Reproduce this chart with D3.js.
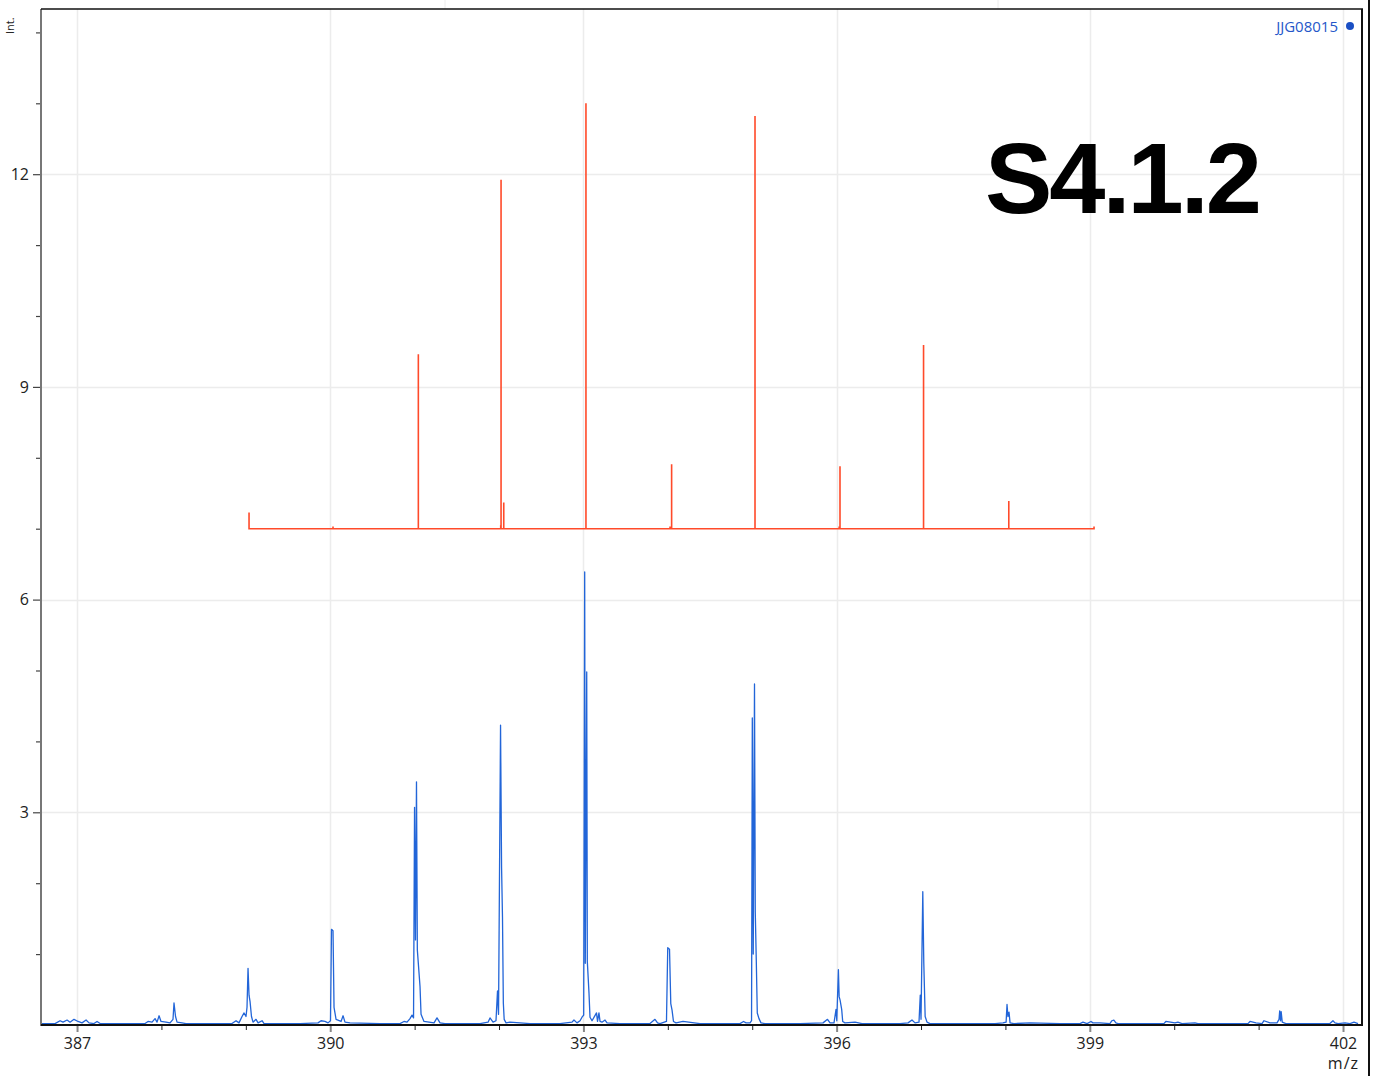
<!DOCTYPE html>
<html><head><meta charset="utf-8">
<script src="https://cdn.jsdelivr.net/npm/d3@7"></script>
<style>html,body{margin:0;padding:0;background:#fff;overflow:hidden}</style>
</head><body>
<svg id="chart" width="1381" height="1076"></svg>
<script>
const sampleName = "JJG08015";
const chartLabel = "S4.1.2";
const xAxisTitle = "m/z";
const yAxisTitle = "Int.";
const xMajorTicks = [387, 390, 393, 396, 399, 402];
const xMinorTicks = [388, 389, 391, 392, 394, 395, 397, 398, 400, 401];
const yMajorTicks = [3, 6, 9, 12];
const yMinorTicks = [1, 2, 4, 5, 7, 8, 10, 11, 13, 14];

// measured (blue, profile) spectrum
const profileMz = [
 386.585,386.739,386.799,386.834,386.882,386.917,386.964,387.012,387.059,387.107,387.142,387.201,387.237,387.273,387.509,
 387.806,387.841,387.889,387.924,387.948,387.972,387.995,388.054,388.102,388.137,388.149,388.167,388.185,388.244,388.291,
 388.836,388.884,388.919,388.955,388.979,389.002,389.014,389.026,389.038,389.050,389.067,389.085,389.121,389.145,389.192,389.216,
 389.642,389.855,389.891,389.938,389.974,390.003,390.015,390.033,390.045,390.069,390.128,390.152,390.175,390.235,
 390.590,390.827,390.874,390.910,390.945,390.969,390.987,390.999,391.010,391.022,391.032,391.064,391.076,391.111,391.230,391.265,391.301,391.360,
 391.775,391.870,391.893,391.929,391.964,391.982,391.994,392.018,392.030,392.041,392.051,392.061,392.083,392.130,392.367,
 392.722,392.865,392.888,392.924,392.960,392.983,393.003,393.015,393.022,393.039,393.046,393.066,393.078,393.102,393.155,393.167,393.184,393.197,393.220,393.256,393.280,393.433,
 393.789,393.848,393.878,393.907,393.984,393.999,394.020,394.035,394.050,394.067,394.097,394.180,
 394.381,394.855,394.897,394.927,394.974,394.992,395.001,395.012,395.027,395.036,395.048,395.060,395.080,395.104,395.152,
 395.567,395.839,395.892,395.922,395.969,395.993,396.002,396.021,396.030,396.041,396.060,396.072,396.099,396.218,396.301,
 396.751,396.846,396.893,396.929,396.976,396.991,397.000,397.021,397.033,397.049,397.071,397.106,
 397.462,397.877,397.971,398.008,398.019,398.030,398.043,398.055,398.101,398.291,
 398.647,398.884,398.919,398.967,399.014,399.037,399.120,399.238,399.262,399.285,399.309,399.333,399.594,399.878,399.901,
 400.009,400.044,400.092,400.246,400.281,400.365,400.661,400.874,400.898,400.969,401.040,401.064,401.135,401.218,
 401.242,401.250,401.260,401.267,401.280,401.324,401.490,401.845,401.881,401.905,401.941,402.024,402.083,402.130,402.178
];
const profileIntensity = [
 0.02,0.02,0.06,0.04,0.07,0.04,0.08,0.05,0.03,0.07,0.03,0.02,0.05,0.02,0.02,
 0.02,0.05,0.04,0.09,0.04,0.13,0.05,0.04,0.03,0.08,0.31,0.12,0.04,0.03,0.02,
 0.02,0.06,0.03,0.12,0.17,0.12,0.25,0.80,0.42,0.33,0.12,0.04,0.08,0.03,0.06,0.02,
 0.02,0.03,0.06,0.05,0.03,0.06,1.35,1.33,0.25,0.08,0.05,0.13,0.04,0.03,
 0.02,0.02,0.05,0.04,0.09,0.14,0.10,3.07,1.20,3.43,1.06,0.54,0.15,0.05,0.03,0.10,0.03,0.02,
 0.02,0.04,0.10,0.04,0.06,0.48,0.15,4.23,2.23,1.52,0.31,0.08,0.03,0.04,0.02,
 0.02,0.04,0.07,0.03,0.06,0.11,0.14,6.39,0.87,4.98,0.90,0.45,0.11,0.06,0.17,0.05,0.17,0.05,0.04,0.07,0.03,0.02,
 0.02,0.08,0.03,0.02,0.05,1.09,1.07,0.30,0.21,0.05,0.03,0.05,
 0.02,0.02,0.05,0.03,0.03,0.06,4.33,1.00,4.81,1.60,0.92,0.17,0.09,0.03,0.02,
 0.02,0.03,0.08,0.03,0.03,0.22,0.06,0.78,0.40,0.35,0.22,0.05,0.03,0.04,0.02,
 0.02,0.03,0.07,0.03,0.04,0.42,0.08,1.88,0.87,0.12,0.04,0.02,
 0.02,0.02,0.03,0.04,0.29,0.12,0.18,0.03,0.02,0.03,
 0.02,0.02,0.04,0.02,0.05,0.03,0.03,0.02,0.06,0.07,0.03,0.02,0.02,0.02,0.05,
 0.03,0.04,0.02,0.03,0.02,0.02,0.02,0.02,0.05,0.03,0.02,0.06,0.03,0.03,
 0.08,0.20,0.06,0.19,0.04,0.02,0.02,0.02,0.06,0.03,0.02,0.03,0.02,0.04,0.02
];

// theoretical (red, stick) spectrum, drawn on an offset baseline
const stickBaseline = 7;
const stickMz = [389.038, 390.033, 391.044, 392.020, 392.024, 392.056, 393.030, 394.026, 394.045, 395.033, 396.030, 396.040, 397.030, 398.040, 399.050];
const stickIntensity = [7.23, 7.03, 9.46, 7.05, 11.92, 7.37, 13.00, 7.03, 7.91, 12.82, 7.03, 7.88, 9.59, 7.39, 7.03];

(function () {
const svg = d3.select("#chart");
const pL = 41, pR = 1362, pT = 9, pB = 1025;
const x = d3.scaleLinear().domain([386.573, 402.225]).range([pL, pR]);
const y = d3.scaleLinear().domain([0, 14.33]).range([pB, pT]);

const font = "'Open Sans', 'Noto Sans', sans-serif";

// faint outside lines at the very top
svg.append("g").selectAll("line").data([445, 998]).join("line")
  .attr("x1", d => d).attr("x2", d => d).attr("y1", 0).attr("y2", pT)
  .attr("stroke", "#ececec").attr("stroke-width", 1);

// grid
const grid = svg.append("g");
grid.selectAll(".vg").data(xMajorTicks).join("line")
  .attr("x1", d => Math.round(x(d)) + 0.5).attr("x2", d => Math.round(x(d)) + 0.5)
  .attr("y1", pT).attr("y2", pB)
  .attr("stroke", "#ececec").attr("stroke-width", 1.5);
grid.selectAll(".hg").data(yMajorTicks).join("line")
  .attr("x1", pL).attr("x2", pR)
  .attr("y1", d => Math.round(y(d)) + 0.5).attr("y2", d => Math.round(y(d)) + 0.5)
  .attr("stroke", "#ececec").attr("stroke-width", 1.5);

// blue profile
svg.append("clipPath").attr("id", "plotclip").append("rect")
  .attr("x", pL).attr("y", pT).attr("width", pR - pL).attr("height", pB - pT);
const profile = profileMz.map((m, i) => [m, profileIntensity[i]]);
svg.append("path").datum(profile)
  .attr("clip-path", "url(#plotclip)")
  .attr("d", d3.line().x(d => x(d[0])).y(d => y(d[1])))
  .attr("fill", "none").attr("stroke", "#2265d8").attr("stroke-width", 1.3)
  .attr("stroke-linejoin", "round");

// red sticks
const sticks = [];
stickMz.forEach((m, i) => {
  if (i === 0) { sticks.push([m, stickIntensity[i]]); sticks.push([m, stickBaseline]); }
  else { sticks.push([m, stickBaseline]); sticks.push([m, stickIntensity[i]]); sticks.push([m, stickBaseline]); }
});
svg.append("path").datum(sticks)
  .attr("d", d3.line().x(d => x(d[0])).y(d => y(d[1])))
  .attr("fill", "none").attr("stroke", "#ff4a2a").attr("stroke-width", 1.6);

// axes
const xMajor = d3.axisBottom(x).tickValues(xMajorTicks).tickSize(7).tickPadding(6).tickFormat(d3.format("d"));
const gx = svg.append("g").attr("transform", `translate(0,${pB})`).call(xMajor);
gx.select(".domain").remove();
gx.selectAll(".tick line").attr("stroke", "#888").attr("stroke-width", 2);
gx.selectAll(".tick text").attr("font-family", font).attr("font-size", 16).attr("fill", "#222");
const xMinor = d3.axisBottom(x).tickValues(xMinorTicks).tickSize(5).tickFormat("");
const gxm = svg.append("g").attr("transform", `translate(0,${pB})`).call(xMinor);
gxm.select(".domain").remove();
gxm.selectAll(".tick line").attr("stroke", "#222").attr("stroke-width", 1);

const yMajor = d3.axisLeft(y).tickValues(yMajorTicks).tickSize(8).tickPadding(4).tickFormat(d3.format("d"));
const gy = svg.append("g").attr("transform", `translate(${pL},0)`).call(yMajor);
gy.select(".domain").remove();
gy.selectAll(".tick line").attr("stroke", "#444").attr("stroke-width", 1.2);
gy.selectAll(".tick text").attr("font-family", font).attr("font-size", 16).attr("fill", "#222");
const yMinor = d3.axisLeft(y).tickValues(yMinorTicks).tickSize(5).tickFormat("");
const gym = svg.append("g").attr("transform", `translate(${pL},0)`).call(yMinor);
gym.select(".domain").remove();
gym.selectAll(".tick line").attr("stroke", "#444").attr("stroke-width", 1.2);

// frame
svg.append("line").attr("x1", pL).attr("x2", pL).attr("y1", pT).attr("y2", pB + 1)
  .attr("stroke", "#777").attr("stroke-width", 2);
svg.append("line").attr("x1", pL).attr("x2", pR + 1).attr("y1", pB).attr("y2", pB)
  .attr("stroke", "#111").attr("stroke-width", 2);
svg.append("line").attr("x1", pL).attr("x2", pR + 1).attr("y1", pT).attr("y2", pT)
  .attr("stroke", "#111").attr("stroke-width", 1.5);
svg.append("line").attr("x1", pR).attr("x2", pR).attr("y1", pT).attr("y2", pB)
  .attr("stroke", "#111").attr("stroke-width", 2);
svg.append("line").attr("x1", 1369).attr("x2", 1369).attr("y1", 0).attr("y2", 1076)
  .attr("stroke", "#111").attr("stroke-width", 2);

// axis titles
svg.append("text").attr("x", 1359).attr("y", 1069).attr("text-anchor", "end")
  .attr("font-family", font).attr("font-size", 16).attr("fill", "#222")
  .attr("letter-spacing", 1).text(xAxisTitle);
svg.append("text").attr("transform", "translate(14,34) rotate(-90)")
  .attr("font-family", font).attr("font-size", 11).attr("fill", "#222")
  .text(yAxisTitle);

// legend
svg.append("text").attr("x", 1338).attr("y", 32).attr("text-anchor", "end")
  .attr("font-family", font).attr("font-size", 15).attr("fill", "#2457c9")
  .text(sampleName);
svg.append("circle").attr("cx", 1350).attr("cy", 26).attr("r", 4).attr("fill", "#1a4fc4");

// big label
svg.append("text").attr("x", 985).attr("y", 213)
  .attr("font-family", "'Liberation Sans', Arial, sans-serif").attr("font-weight", "bold")
  .attr("font-size", 101).attr("letter-spacing", -3).attr("fill", "#000")
  .text(chartLabel);
})();
</script>
</body></html>
